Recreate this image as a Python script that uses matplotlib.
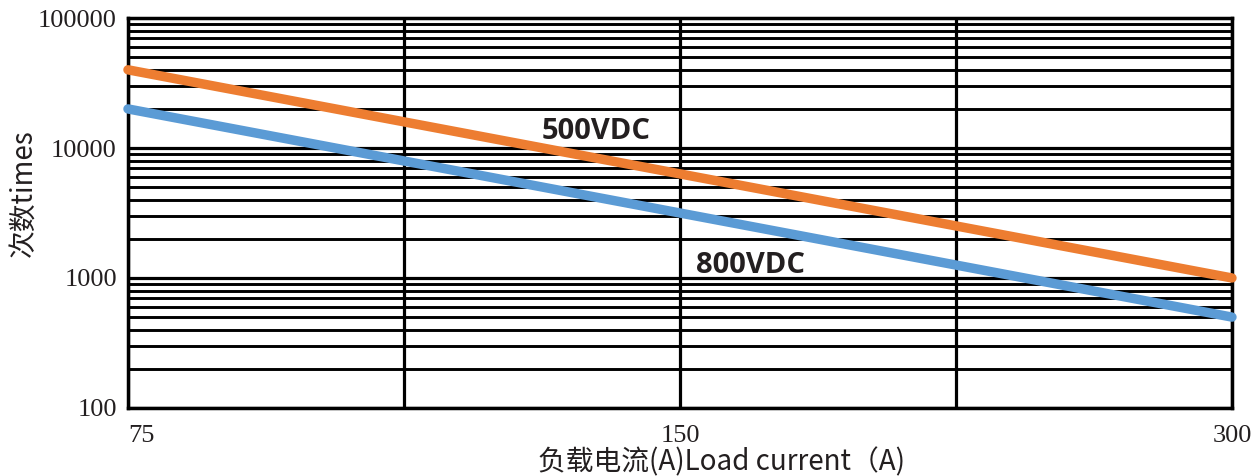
import numpy as np
import matplotlib.pyplot as plt
import matplotlib.ticker as ticker

plt.rcParams['font.family'] = ['Noto Sans CJK SC', 'DejaVu Sans']

# 负载电流 (A) / 次数
current = [75, 300]
life_500vdc = [40000, 1000]
life_800vdc = [20000, 500]
xticks = [75, 150, 300]
xgrid = [75, 106.07, 150, 212.13, 300]
yticks = [100, 1000, 10000, 100000]

fig = plt.figure(figsize=(12.57, 4.76), dpi=100)
ax = fig.add_axes([0.1018, 0.143, 0.8783, 0.819])

ax.set_xscale('log')
ax.set_yscale('log')
ax.set_xlim(75, 300)
ax.set_ylim(100, 100000)

# 网格
for xv in xgrid:
    ax.axvline(xv, color='black', lw=2.3, zorder=1)
for dec in [100, 1000, 10000]:
    for m in range(1, 10):
        ax.axhline(dec * m, color='black', lw=2.3 if m == 1 else 2.1, zorder=1)

ax.plot(current, life_500vdc, color='#ED7D31', lw=6.8, solid_capstyle='round', zorder=3, clip_on=False)
ax.plot(current, life_800vdc, color='#5B9BD5', lw=6.8, solid_capstyle='round', zorder=3, clip_on=False)

ax.annotate('500VDC', xy=(0.424, 0.71), xycoords='axes fraction', ha='center', va='center',
            fontsize=21, fontweight='bold', color='#231f20', family=['Open Sans', 'DejaVu Sans'])
ax.annotate('800VDC', xy=(0.564, 0.365), xycoords='axes fraction', ha='center', va='center',
            fontsize=21, fontweight='bold', color='#231f20', family=['Open Sans', 'DejaVu Sans'])

ax.xaxis.set_major_locator(ticker.FixedLocator(xticks))
ax.xaxis.set_major_formatter(ticker.FixedFormatter([str(v) for v in xticks]))
ax.xaxis.set_minor_locator(ticker.NullLocator())
ax.yaxis.set_major_locator(ticker.FixedLocator(yticks))
ax.yaxis.set_major_formatter(ticker.FixedFormatter([str(v) for v in yticks]))
ax.yaxis.set_minor_locator(ticker.NullLocator())
ax.tick_params(axis='x', length=0, pad=12)
ax.tick_params(axis='y', length=0, pad=8)
for lab in ax.get_xticklabels() + ax.get_yticklabels():
    lab.set_family('Liberation Serif')
    lab.set_fontsize(19)
    lab.set_color('#231f20')
ax.get_xticklabels()[0].set_ha('left')

for sp in ax.spines.values():
    sp.set_linewidth(2.5)
    sp.set_color('black')

ax.set_xlabel('负载电流(A)Load current（A)', fontsize=20, color='#231f20')
ax.xaxis.set_label_coords(0.538, -0.1)
ax.set_ylabel('次数times', fontsize=20, color='#231f20')
ax.yaxis.set_label_coords(-0.08, 0.55)

plt.savefig('out.png', dpi=100)
